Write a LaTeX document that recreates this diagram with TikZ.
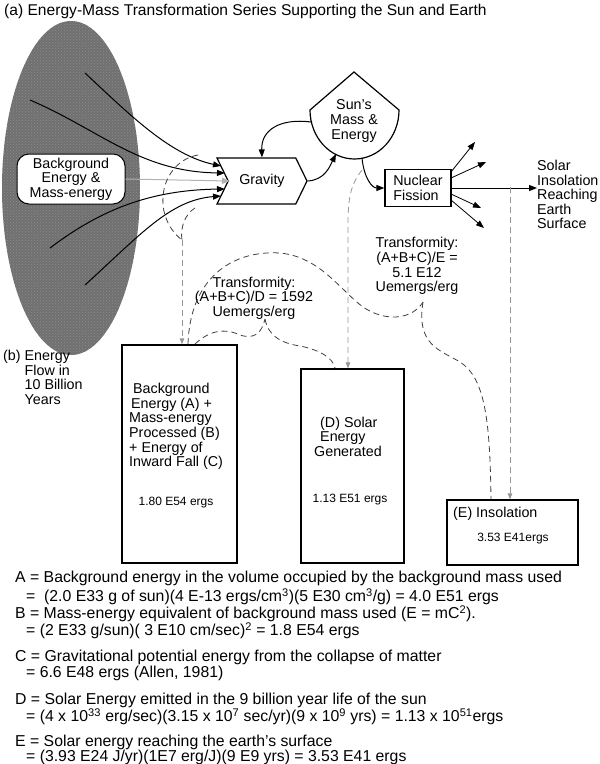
\documentclass[tikz,border=0pt]{standalone}
\usepackage{fontspec}
\setmainfont{Liberation Sans}
\usetikzlibrary{arrows.meta,shapes.geometric,shapes.symbols,patterns}
\definecolor{massgray}{RGB}{112,112,112}
\definecolor{dashgray}{RGB}{150,150,150}

\begin{document}
\begin{tikzpicture}[
    x=1pt, y=-1pt,
    every node/.style={font=\fontsize{14.3}{14.6}\selectfont, inner sep=2pt},
    box/.style={draw, line width=1.2pt},
    flow/.style={-{Triangle[length=8pt,width=6pt]}, line width=1pt},
    tfline/.style={dash pattern=on 6pt off 4pt, draw=black!75, line width=0.8pt},
    tfarr/.style={tfline, draw=dashgray, -{Triangle[length=6pt,width=4.5pt]}},
    valtext/.style={font=\fontsize{12}{13}\selectfont},
    eqline/.style={anchor=west, font=\fontsize{15.8}{17}\selectfont, inner sep=0pt}
]
    \useasboundingbox (0,0) rectangle (600,764);

    % (a) title
    \node[anchor=west, font=\fontsize{15.6}{17}\selectfont, inner sep=0pt] (title) at (4,11)
        {(a) Energy-Mass Transformation Series Supporting the Sun and Earth};

    % Background mass (shaded ellipse)
    \node[ellipse, fill=massgray, minimum width=138, minimum height=334, inner sep=0pt,
          postaction={pattern=crosshatch dots, pattern color=black!45}] (mass) at (71,188) {};
    \node[draw, fill=white, rounded corners=12pt, line width=1pt, minimum width=108,
          minimum height=50, align=center] (bgbox) at (71,179) {Background\\Energy \&\\Mass-energy};

    % Gravity, Sun tank, fission
    \node[signal, signal to=east, signal from=west, signal pointer angle=128, box,
          minimum width=90, minimum height=46, inner sep=0pt] (grav) at (262,181) {Gravity};
    \node[align=center] (sun) at (354,121) {Sun's\\Mass \&\\Energy};
    \draw[box] (310,110) -- (354,72) -- (399,110)
        arc[start angle=0, end angle=180, x radius=44.5, y radius=49] -- cycle;
    \node[box, minimum width=66, minimum height=37, align=left] (fission) at (418,188) {Nuclear\\Fission};
    \node[anchor=north west, align=left, inner sep=0pt] (insol) at (537,160)
        {Solar\\Insolation\\Reaching\\Earth\\Surface};

    % points on outlines
    \coordinate (sunin) at (336,154);
    \coordinate (sunleft) at (311,122);
    \coordinate (sunbot) at (362,158);
    \coordinate (g1) at (221,166);
    \coordinate (g2) at (225,173);
    \coordinate (g3) at (230,181);
    \coordinate (g4) at (225,189);
    \coordinate (g5) at (221,196);
    \coordinate (insoltap) at (510,187);

    % Flows from the background into gravity
    \draw[flow] (85,73) .. controls (130,115) and (170,155) .. (g1);
    \draw[flow] (30,100) .. controls (100,130) and (140,172) .. (g2);
    \draw[flow, draw=black!30] (bgbox.east) -- (g3);
    \draw[flow] (50,248) .. controls (100,210) and (150,190) .. (g4);
    \draw[flow] (85,285) .. controls (140,235) and (170,200) .. (g5);

    \draw[flow] (grav.east) .. controls (325,180) and (330,166) .. (sunin);
    \draw[flow] (sunleft) .. controls (280,118) and (261,130) .. (grav.north);
    \draw[flow] (sunbot) .. controls (364,178) and (372,188) .. (fission.west);

    % Outflows from fission
    \draw[flow] (fission.east) -- (insol.west |- fission.east);
    \foreach \ys/\xe/\ye in {172/475/142, 178/486/162, 194/481/208, 200/484/228} {
        \draw[flow, line width=0.8pt] (451,\ys) -- (\xe,\ye);
    }

    % (b) Energy flow boxes
    \node[anchor=north west, align=left] (blabel) at (1,348)
        {(b) Energy\\\phantom{(b) }Flow in\\\phantom{(b) }10 Billion\\\phantom{(b) }Years};
    \node[box, minimum width=115, minimum height=218] (boxABC) at (179.5,454) {};
    \node[anchor=west, align=left] (txABC) at (127,426.5)
        {\hspace*{4pt}Background\\\hspace*{2pt}Energy (A) +\\Mass-energy\\Processed (B)\\+ Energy of\\Inward Fall (C)};
    \node[valtext] (valABC) at (176,503) {1.80 E54 ergs};

    \node[box, minimum width=103, minimum height=194] (boxD) at (352.5,466) {};
    \node[align=left] (txD) at (348,436.5) {\hspace*{6pt}(D) Solar\\\hspace*{6pt}Energy\\Generated};
    \node[valtext] (valD) at (350,500) {1.13 E51 ergs};

    \node[box, minimum width=131, minimum height=65] (boxE) at (512.5,532.5) {};
    \node[anchor=west] (txE) at (451,514) {(E) Insolation};
    \node[valtext] (valE) at (513,539) {3.53 E41ergs};

    % Transformities
    \node[align=center] (tfD) at (254,298) {Transformity:\\(A+B+C)/D = 1592\\Uemergs/erg};
    \node[align=center] (tfE) at (417,266) {Transformity:\\(A+B+C)/E =\\5.1 E12\\Uemergs/erg};

    \coordinate (gravjoin) at (182,240);
    \coordinate (sunjoin) at (348,225);
    \draw[tfline] (198,155) .. controls (160,162) and (150,215) .. (gravjoin);
    \draw[tfline] (195,208) .. controls (185,214) and (180,228) .. (gravjoin);
    \draw[tfarr] (gravjoin) -- (gravjoin |- boxABC.north);
    \draw[tfarr] (362,170) .. controls (350,185) and (348,200) .. (sunjoin) -- (sunjoin |- boxD.north);
    \draw[tfarr] (insoltap) -- (insoltap |- boxE.north);

    % braces to the transformity labels
    \draw[tfline] (195,344) .. controls (210,330) and (225,328) .. (240,335)
        .. controls (255,340) and (262,332) .. (265,319);
    \draw[tfline] (265,319) .. controls (268,335) and (280,343) .. (300,346)
        .. controls (320,350) and (333,358) .. (335,368);
    \draw[tfline] (188,344) .. controls (190,280) and (230,250) .. (280,253)
        .. controls (320,257) and (340,290) .. (363,307)
        .. controls (385,322) and (412,320) .. (423,302);
    \draw[tfline] (423,302) .. controls (416,345) and (440,350) .. (460,362)
        .. controls (485,378) and (490,420) .. (491,499);

    % Notes
    \node[eqline] (eqA1) at (15,578) {A = Background energy in the volume occupied by the background mass used};
    \node[eqline] (eqA2) at (26,597) {=\ \ (2.0 E33 g of sun)(4 E-13 ergs/cm\textsuperscript{3})(5 E30 cm\textsuperscript{3}/g) = 4.0 E51 ergs};
    \node[eqline] (eqB1) at (15,614) {B = Mass-energy equivalent of background mass used (E = mC\textsuperscript{2}).};
    \node[eqline] (eqB2) at (26,631) {= (2 E33 g/sun)( 3 E10 cm/sec)\textsuperscript{2} = 1.8 E54 ergs};
    \node[eqline] (eqC1) at (15,657) {C = Gravitational potential energy from the collapse of matter};
    \node[eqline] (eqC2) at (26,673) {= 6.6 E48 ergs (Allen, 1981)};
    \node[eqline] (eqD1) at (15,700) {D = Solar Energy emitted in the 9 billion year life of the sun};
    \node[eqline] (eqD2) at (26,717) {= (4 x 10\textsuperscript{33} erg/sec)(3.15 x 10\textsuperscript{7} sec/yr)(9 x 10\textsuperscript{9} yrs) = 1.13 x 10\textsuperscript{51}ergs};
    \node[eqline] (eqE1) at (15,742) {E = Solar energy reaching the earth's surface};
    \node[eqline] (eqE2) at (26,757) {= (3.93 E24 J/yr)(1E7 erg/J)(9 E9 yrs) = 3.53 E41 ergs};
\end{tikzpicture}
\end{document}
